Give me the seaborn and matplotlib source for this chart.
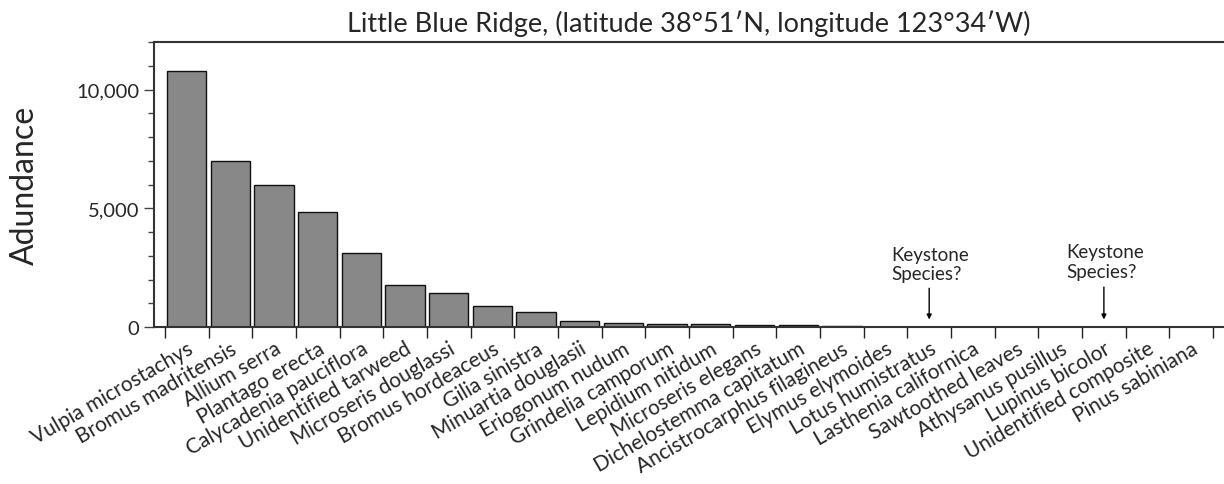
import numpy as np
import pandas as pd
import seaborn as sns
import matplotlib.pyplot as plt
from matplotlib.ticker import MultipleLocator, FixedLocator, StrMethodFormatter

species = [
    "Vulpia microstachys", "Bromus madritensis", "Allium serra", "Plantago erecta",
    "Calycadenia pauciflora", "Unidentified tarweed", "Microseris douglassi",
    "Bromus hordeaceus", "Gilia sinistra", "Minuartia douglasii", "Eriogonum nudum",
    "Grindelia camporum", "Lepidium nitidum", "Microseris elegans",
    "Dichelostemma capitatum", "Ancistrocarphus filagineus", "Elymus elymoides",
    "Lotus humistratus", "Lasthenia californica", "Sawtoothed leaves",
    "Athysanus pusillus", "Lupinus bicolor", "Unidentified composite", "Pinus sabiniana",
]
abundance = [10800, 7000, 6000, 4830, 3100, 1760, 1420, 900, 620, 270, 160, 120,
             110, 75, 65, 40, 20, 8, 5, 4, 3, 2, 2, 1]
keystone = ["Lotus humistratus", "Lupinus bicolor"]

sns.set_theme(style="ticks")
plt.rcParams["font.family"] = ["Lato", "DejaVu Sans"]

df = pd.DataFrame({"species": species, "abundance": abundance})

fig = plt.figure(figsize=(12.24, 4.85), dpi=100)
ax = fig.add_axes([0.1258, 0.3237, 0.8742, 0.587])

sns.barplot(data=df, x="species", y="abundance", color="#888888", saturation=1,
            edgecolor="#111111", linewidth=1, width=0.9, ax=ax)

n = len(species)
ax.set_xlim(-0.75, n - 0.25)
ax.set_ylim(0, 12000)

# labels at bar centres, ticks at the bar boundaries
ax.set_xticks(range(n))
ax.set_xticklabels(species, rotation=30, ha="right", rotation_mode="anchor", fontsize=15)
ax.tick_params(axis="x", which="major", length=0, pad=8)
ax.xaxis.set_minor_locator(FixedLocator(np.arange(-0.5, n, 1.0)))
ax.tick_params(axis="x", which="minor", length=8, width=1, color="#222222")

ax.yaxis.set_major_locator(MultipleLocator(5000))
ax.yaxis.set_minor_locator(MultipleLocator(1000))
ax.yaxis.set_major_formatter(StrMethodFormatter("{x:,.0f}"))
ax.tick_params(axis="y", which="major", length=7, width=1, labelsize=14.5, color="#444444")
ax.tick_params(axis="y", which="minor", length=4, width=1, color="#444444")

for s in ["left", "top", "bottom"]:
    ax.spines[s].set_color("#333333")
    ax.spines[s].set_linewidth(1.5)
ax.spines["right"].set_visible(False)

ax.set_xlabel("")
ax.set_ylabel("Adundance", fontsize=23, labelpad=26)
ax.set_title("Little Blue Ridge, (latitude 38°51′N, longitude 123°34′W)", fontsize=19.5, pad=8)

# keystone annotations
text_pos = {"Lotus humistratus": (-0.86, 3400), "Lupinus bicolor": (-0.86, 3520)}
tail = {"Lotus humistratus": 1750, "Lupinus bicolor": 1800}
for name in keystone:
    i = species.index(name)
    ax.annotate("", xy=(i, 200), xytext=(i, tail[name]),
                arrowprops=dict(arrowstyle="-|>", color="black", lw=1, mutation_scale=7))
    dx, ty = text_pos[name]
    ax.text(i + dx, ty, "Keystone\nSpecies?", ha="left", va="top", fontsize=13.5,
            linespacing=1.15)

fig.savefig("out.png", dpi=100)
